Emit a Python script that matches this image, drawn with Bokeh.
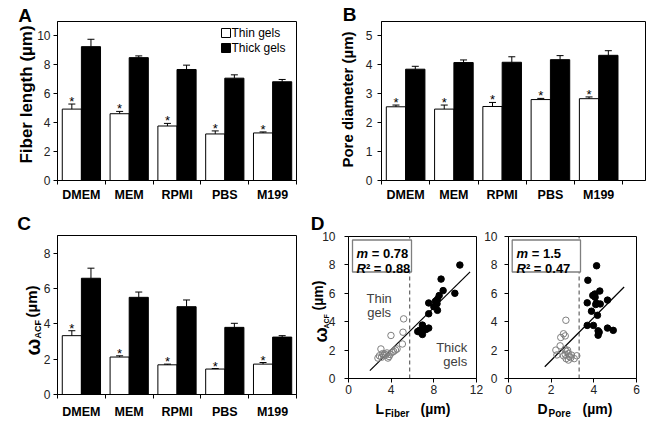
import numpy as np
from bokeh.plotting import figure
from bokeh.models import Range1d, FixedTicker, Label, LinearAxis
from bokeh.layouts import column, row
from bokeh.embed import file_html
from bokeh.resources import INLINE

FONT = "Liberation Sans"

# ---------------- data ----------------
media = ["DMEM", "MEM", "RPMI", "PBS", "M199"]

fiber_thin = [4.94, 4.62, 3.77, 3.22, 3.29]
fiber_thin_err = [0.35, 0.16, 0.18, 0.21, 0.07]
fiber_thick = [9.26, 8.50, 7.68, 7.08, 6.83]
fiber_thick_err = [0.51, 0.12, 0.30, 0.23, 0.16]

pore_thin = [2.55, 2.47, 2.56, 2.80, 2.83]
pore_thin_err = [0.06, 0.14, 0.14, 0.04, 0.06]
pore_thick = [3.85, 4.08, 4.09, 4.18, 4.33]
pore_thick_err = [0.10, 0.09, 0.19, 0.14, 0.16]

acf_thin = [3.33, 2.12, 1.68, 1.44, 1.72]
acf_thin_err = [0.28, 0.07, 0.04, 0.03, 0.09]
acf_thick = [6.58, 5.50, 4.97, 3.80, 3.25]
acf_thick_err = [0.57, 0.30, 0.38, 0.23, 0.08]

# scatter: L_fiber vs w_ACF
thin_L = [5.17, 5.11, 3.98, 5.05, 3.04, 4.55, 4.23, 3.39, 3.60, 3.90,
          4.10, 2.76, 3.10, 3.70, 3.30, 3.50, 4.40, 3.20, 2.90, 3.80]
thin_wL = [4.20, 3.26, 3.03, 2.43, 2.08, 2.08, 1.91, 1.73, 1.80, 1.70,
           1.85, 1.44, 1.50, 1.44, 1.62, 1.65, 2.00, 1.75, 1.60, 1.55]
thick_L = [10.44, 8.68, 8.87, 9.97, 8.50, 8.34, 8.15, 8.30, 7.52, 8.00,
           8.34, 7.52, 6.93, 7.52, 7.27, 6.68, 6.74, 6.49, 6.93, 7.10]
thick_wL = [7.99, 7.00, 6.19, 6.00, 5.84, 5.58, 5.44, 5.27, 5.32, 5.06,
            4.80, 4.56, 3.76, 3.55, 3.45, 3.40, 3.26, 3.31, 3.10, 3.50]
fitL_slope, fitL_icept, fitL_x = 0.74, -0.93, [2.0, 11.4]
L_threshold = 5.74
L_stats = ["0.78", "0.88"]

# scatter: D_pore vs w_ACF
thin_D = [2.69, 2.58, 2.66, 2.45, 2.42, 2.22, 2.27, 2.77, 2.72, 2.66,
          2.81, 2.92, 2.81, 3.08, 2.70, 3.20, 2.58, 2.85, 2.95, 2.65]
thin_wD = [4.10, 3.15, 3.00, 2.89, 2.30, 2.00, 1.66, 1.99, 1.90, 1.70,
           1.75, 1.47, 1.30, 1.40, 1.40, 1.60, 1.60, 1.55, 1.65, 2.05]
thick_D = [4.13, 3.72, 4.28, 4.05, 4.06, 3.69, 4.09, 4.30, 4.64, 3.89,
           4.17, 3.69, 3.98, 4.20, 4.25, 4.20, 4.64, 4.91, 3.95, 4.12]
thick_wD = [7.94, 6.92, 6.16, 5.95, 5.72, 5.33, 5.21, 5.25, 5.52, 4.74,
            4.45, 3.74, 3.74, 3.36, 3.26, 3.05, 3.55, 3.39, 5.85, 5.30]
fitD_slope, fitD_icept, fitD_x = 1.51, -1.74, [1.7, 5.42]
D_threshold = 3.31
D_stats = ["1.5", "0.47"]


# ---------------- helpers ----------------
class Panel:
    """A figure whose frame fills the canvas; the data box sits at a chosen pixel rect."""

    def __init__(self, fig_rect, box, data):
        fx, fy, fw, fh = fig_rect
        bl, bt, br, bb = box
        x0, x1, y0, y1 = data
        self.box, self.data = box, data
        self.sx = (br - bl) / (x1 - x0)
        self.sy = (bb - bt) / (y1 - y0)
        xr = (x0 - (bl - fx) / self.sx, x1 + (fx + fw - br) / self.sx)
        yr = (y0 - (fy + fh - bb) / self.sy, y1 + (bt - fy) / self.sy)
        p = figure(width=fw, height=fh, x_range=Range1d(*xr), y_range=Range1d(*yr),
                   x_axis_location=None, y_axis_location=None,
                   output_backend="svg", toolbar_location=None, tools="")
        p.min_border_left = p.min_border_right = 0
        p.min_border_top = p.min_border_bottom = 0
        p.outline_line_color = None
        p.background_fill_color = "white"
        p.border_fill_color = "white"
        for g in p.grid:
            g.visible = False
        self.p = p
        # plotting box outline
        p.quad(left=[x0], right=[x1], bottom=[y0], top=[y1], fill_color=None,
               line_color="black", line_width=1)

    def to_data(self, px, py):
        bl, bt, br, bb = self.box
        x0, x1, y0, y1 = self.data
        return x0 + (px - bl) / self.sx, y0 + (bb - py) / self.sy

    def label(self, px, py, text, size, style="bold", angle=0.0, align="center",
              baseline="middle", color="black"):
        x, y = self.to_data(px, py)
        self.p.add_layout(Label(x=x, y=y, text=text, angle=angle, text_font=FONT,
                                text_font_size=size, text_font_style=style,
                                text_align=align, text_baseline=baseline,
                                text_color=color))

    def yaxis(self, ticks, standoff):
        x0, x1, y0, y1 = self.data
        ax = LinearAxis(fixed_location=x0, bounds=(y0, y1), ticker=FixedTicker(ticks=ticks))
        ax.major_tick_in = 0
        ax.major_tick_out = 4
        ax.minor_tick_line_color = None
        ax.axis_line_color = "black"
        ax.major_tick_line_color = "black"
        ax.major_label_text_font = FONT
        ax.major_label_text_font_size = "12px"
        ax.major_label_text_color = "#222222"
        ax.major_label_standoff = standoff
        self.p.add_layout(ax, "left")
        return ax

    def xaxis(self, ticks, standoff, minor=None):
        x0, x1, y0, y1 = self.data
        tk = FixedTicker(ticks=ticks, minor_ticks=minor) if minor is not None else FixedTicker(ticks=ticks)
        ax = LinearAxis(fixed_location=y0, bounds=(x0, x1), ticker=tk)
        ax.major_tick_in = 0
        ax.major_tick_out = 4
        ax.minor_tick_in = 0
        ax.minor_tick_out = 4
        ax.minor_tick_line_color = None
        ax.axis_line_color = "black"
        ax.major_tick_line_color = "black"
        ax.major_label_text_font = FONT
        ax.major_label_text_font_size = "12px"
        ax.major_label_text_color = "#222222"
        ax.major_label_standoff = standoff
        self.p.add_layout(ax, "below")
        return ax


def bar_panel(fig_rect, box, xmax, ymax, yticks, ystand, xstand,
              thin, thin_err, thick, thick_err):
    P = Panel(fig_rect, box, (0, xmax, 0, ymax))
    p = P.p
    idx = np.arange(len(media))
    thin = np.array(thin); thick = np.array(thick)
    thin_top = thin + np.array(thin_err)
    thick_top = thick + np.array(thick_err)
    p.vbar(x=idx + 0.3, top=thin, bottom=0, width=0.4, fill_color="white",
           line_color="black", line_width=1)
    p.vbar(x=idx + 0.7, top=thick, bottom=0, width=0.4, fill_color="black",
           line_color="black", line_width=1)
    for xs, lo, hi in ((idx + 0.3, thin, thin_top), (idx + 0.7, thick, thick_top)):
        p.segment(x0=xs, y0=lo, x1=xs, y1=hi, line_color="black", line_width=1)
        p.scatter(x=xs, y=hi, marker="dash", size=7, line_color="black", line_width=1)
    # significance asterisks above the thin-gel bars
    for xi, yt in zip(idx + 0.3, thin_top):
        p.add_layout(Label(x=xi, y=yt + 2.5 / P.sy, text="*", text_font=FONT,
                           text_font_size="13px", text_align="center",
                           text_baseline="alphabetic", text_color="black"))
    P.yaxis(yticks, ystand)
    ax = P.xaxis([i + 0.5 for i in range(len(media))], xstand,
                 minor=list(range(len(media) + 1)))
    ax.major_label_overrides = {i + 0.5: m for i, m in enumerate(media)}
    ax.major_tick_line_color = None
    ax.minor_tick_line_color = "black"
    ax.major_label_text_font_size = "12.5px"
    ax.major_label_text_font_style = "bold"
    ax.major_label_text_color = "black"
    return P


# ---------------- panel A ----------------
PA = bar_panel((0, 0, 327, 213), (57, 21, 296, 180), 5, 11, [0, 2, 4, 6, 8, 10], 3, 3,
               fiber_thin, fiber_thin_err, fiber_thick, fiber_thick_err)
PA.label(24.5, 15, "A", "19px")
PA.label(25.5, 94, "Fiber length (µm)", "17px", angle=np.pi / 2)
lx, ly1 = PA.to_data(225.5, 32.5)
_, ly2 = PA.to_data(225.5, 47.5)
PA.p.scatter(x=[lx], y=[ly1], marker="square", size=9, fill_color="white", line_color="black")
PA.p.scatter(x=[lx], y=[ly2], marker="square", size=9, fill_color="black", line_color="black")
PA.label(231, 32.5, "Thin gels", "12px", style="normal", align="left")
PA.label(231, 47.5, "Thick gels", "12px", style="normal", align="left")

# ---------------- panel B ----------------
PB = bar_panel((327, 0, 327, 213), (381, 21, 645, 180), 5.47, 5.5, [0, 1, 2, 3, 4, 5], 5, 3,
               pore_thin, pore_thin_err, pore_thick, pore_thick_err)
PB.label(349, 14, "B", "19px")
PB.label(346.5, 99, "Pore diameter (µm)", "15px", angle=np.pi / 2)

# ---------------- panel C ----------------
PC = bar_panel((0, 213, 305, 213), (57, 235, 296, 394), 5, 9, [0, 2, 4, 6, 8], 3, 6,
               acf_thin, acf_thin_err, acf_thick, acf_thick_err)
PC.label(23.5, 223, "C", "19px")
PC.label(32, 355, "ω", "20px", angle=np.pi / 2, align="left", baseline="alphabetic")
PC.label(37, 338, "ACF", "9px", angle=np.pi / 2, align="left", baseline="alphabetic")
PC.label(30.5, 317, "(µm)", "15px", angle=np.pi / 2, align="left", baseline="alphabetic")


# ---------------- panel D ----------------
def scatter_panel(fig_rect, box, xmax, xticks, ystand, xs_thin, ys_thin, xs_thick, ys_thick,
                  slope, icept, fx, thr, stats, box_px, text_px):
    P = Panel(fig_rect, box, (0, xmax, 0, 10))
    p = P.p
    p.segment(x0=[thr], y0=[0], x1=[thr], y1=[10], line_color="#444444",
              line_dash="4 3", line_width=1)
    bl, bt = P.to_data(box_px[0], box_px[1])
    br, bb = P.to_data(box_px[2], box_px[3])
    p.quad(left=[bl], right=[br], top=[bt], bottom=[bb], fill_color="white",
           line_color="#7f7f7f", line_width=1.3)
    fxa = np.array(fx)
    p.line(x=fxa, y=slope * fxa + icept, line_color="black", line_width=1.2)
    p.scatter(x=xs_thin, y=ys_thin, marker="circle", size=6.5, fill_color=None,
              line_color="#7f7f7f", line_width=1)
    p.scatter(x=xs_thick, y=ys_thick, marker="circle", size=6.5, fill_color="black",
              line_color="black")
    P.yaxis([0, 2, 4, 6, 8, 10], ystand)
    P.xaxis(xticks, 2)
    tx, ty1, ty2 = text_px
    P.label(tx, ty1, "m", "13px", style="bold italic", align="left", baseline="alphabetic")
    P.label(tx + 15.2, ty1, "= " + stats[0], "13px", align="left", baseline="alphabetic")
    P.label(tx, ty2, "R", "13px", style="bold italic", align="left", baseline="alphabetic")
    P.label(tx + 9.4, ty2, "² = " + stats[1], "13px", align="left", baseline="alphabetic")
    return P


PD1 = scatter_panel((305, 213, 178, 213), (348, 236, 476, 378), 12, [0, 4, 8, 12], 9,
                    thin_L, thin_wL, thick_L, thick_wL,
                    fitL_slope, fitL_icept, fitL_x, L_threshold, L_stats,
                    (352, 239.5, 411, 271.5), (356, 253, 268))
PD1.label(317, 223, "D", "19px")
PD1.label(320, 342, "ω", "18px", angle=np.pi / 2, align="left", baseline="alphabetic")
PD1.label(325.5, 328, "ACF", "7px", angle=np.pi / 2, align="left", baseline="alphabetic")
PD1.label(317, 310, "(µm)", "14px", angle=np.pi / 2, align="left", baseline="alphabetic")
PD1.label(375, 408, "L", "14px", align="left", baseline="alphabetic")
PD1.label(384.5, 412.5, "Fiber", "10px", align="left", baseline="alphabetic")
PD1.label(420, 408, "(µm)", "14px", align="left", baseline="alphabetic")
PD1.label(378.7, 298.3, "Thin", "13px", style="normal", color="#404040", baseline="alphabetic")
PD1.label(378.7, 311.7, "gels", "13px", style="normal", color="#404040", baseline="alphabetic")
PD1.label(466.7, 347, "Thick", "13px", style="normal", color="#404040", align="right", baseline="alphabetic")
PD1.label(466.7, 360.7, "gels", "13px", style="normal", color="#404040", align="right", baseline="alphabetic")

PD2 = scatter_panel((483, 213, 171, 213), (508, 236, 636, 378), 6, [0, 2, 4, 6], 7,
                    thin_D, thin_wD, thick_D, thick_wD,
                    fitD_slope, fitD_icept, fitD_x, D_threshold, D_stats,
                    (511.7, 239.5, 580, 271.5), (516, 253, 268))
PD2.label(537, 408, "D", "14px", align="left", baseline="alphabetic")
PD2.label(548, 412.5, "Pore", "10px", align="left", baseline="alphabetic")
PD2.label(582, 408, "(µm)", "14px", align="left", baseline="alphabetic")

layout = column(row(PA.p, PB.p), row(PC.p, PD1.p, PD2.p))
open("out.html", "w").write(file_html(layout, INLINE))
